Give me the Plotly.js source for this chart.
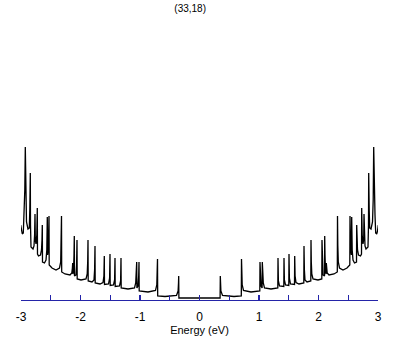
<!DOCTYPE html>
<html>
<head>
<meta charset="utf-8">
<script src="https://cdn.plot.ly/plotly-3.0.1.min.js"></script>
<style>html,body{margin:0;padding:0;background:#fff;}#plot{width:409px;height:345px;}</style>
</head>
<body>
<div id="plot"></div>
<script>
// Density of states of the (33,18) nanotube
const energyNeg = [-3.0050,-2.9916,-2.9782,-2.9613,-2.9496,-2.9445,-2.9361,-2.9277,-2.9193,-2.9076,-2.8824,-2.8605,-2.8521,-2.8437,-2.8403,-2.8319,-2.7983,-2.7815,-2.7714,-2.7647,-2.7597,-2.7479,-2.7345,-2.7261,-2.7227,-2.7059,-2.6723,-2.6555,-2.6471,-2.6420,-2.6387,-2.6050,-2.5798,-2.5664,-2.5580,-2.5529,-2.5395,-2.5294,-2.5261,-2.4790,-2.4118,-2.3529,-2.3328,-2.3244,-2.3193,-2.3160,-2.2605,-2.1765,-2.1462,-2.1361,-2.1311,-2.1277,-2.1176,-2.1092,-2.1042,-2.1008,-2.0756,-2.0655,-2.0588,-2.0555,-1.9916,-1.9076,-1.8874,-1.8790,-1.8739,-1.8706,-1.8067,-1.7731,-1.7630,-1.7563,-1.7529,-1.6723,-1.6218,-1.6067,-1.6000,-1.5966,-1.5294,-1.5109,-1.5042,-1.5008,-1.4454,-1.4269,-1.4202,-1.4168,-1.3445,-1.3261,-1.3193,-1.3160,-1.2017,-1.0924,-1.0723,-1.0622,-1.0555,-1.0521,-1.0336,-1.0218,-1.0168,-1.0134,-0.8655,-0.7395,-0.7176,-0.7109,-0.7059,-0.7025,-0.5798,-0.3866,-0.3597,-0.3529,-0.3496,-0.3462,0];
const dosNeg = [7.3,6.7,6.4,6.5,8.3,9.8,10.8,15.1,9.8,7.6,6.9,7.0,8.8,12.5,7.3,5.1,4.9,5.2,6.3,8.4,5.8,5.4,6.3,9.0,4.4,4.2,4.3,4.8,5.8,7.3,3.6,3.5,3.8,4.8,8.1,4.3,5.0,8.2,3.3,3.0,2.8,3.0,3.6,5.3,8.2,2.6,2.4,2.3,2.5,3.0,3.5,2.4,2.7,4.3,6.2,2.2,2.3,3.3,5.8,1.9,1.8,1.9,2.4,3.6,5.8,1.7,1.6,1.8,2.8,5.2,1.5,1.4,1.55,2.2,4.2,1.35,1.4,2.0,4.4,1.25,1.3,1.8,4.0,1.15,1.2,1.7,4.0,1.0,0.9,1.0,1.5,2.8,3.6,1.0,1.2,2.2,3.6,0.7,0.6,0.75,1.3,2.8,3.9,0.2,0.15,0.25,0.7,1.5,2.2,0,0];
const energyPos = [0,0.3462,0.3496,0.3529,0.3597,0.3866,0.5798,0.7025,0.7059,0.7109,0.7176,0.7395,0.8655,1.0134,1.0168,1.0218,1.0336,1.0521,1.0555,1.0622,1.0723,1.0924,1.2017,1.3160,1.3193,1.3261,1.3445,1.4168,1.4202,1.4269,1.4454,1.5008,1.5042,1.5109,1.5294,1.5966,1.6000,1.6067,1.6218,1.6723,1.7529,1.7563,1.7630,1.7731,1.8067,1.8706,1.8739,1.8790,1.8874,1.9076,1.9916,2.0555,2.0588,2.0655,2.0756,2.1008,2.1042,2.1092,2.1176,2.1277,2.1311,2.1361,2.1462,2.1765,2.2605,2.3160,2.3193,2.3244,2.3328,2.3529,2.4118,2.4790,2.5261,2.5294,2.5395,2.5529,2.5580,2.5664,2.5798,2.6050,2.6387,2.6420,2.6471,2.6555,2.6723,2.7059,2.7227,2.7261,2.7345,2.7479,2.7597,2.7647,2.7714,2.7815,2.7983,2.8319,2.8403,2.8437,2.8521,2.8605,2.8824,2.9076,2.9193,2.9277,2.9361,2.9445,2.9496,2.9613,2.9782,2.9916,3.0050];
const dosPos = [0,0,2.2,1.5,0.7,0.25,0.15,0.2,3.9,2.8,1.3,0.75,0.6,0.7,3.6,2.2,1.2,1.0,3.6,2.8,1.5,1.0,0.9,1.0,4.0,1.7,1.2,1.15,4.0,1.8,1.3,1.25,4.4,2.0,1.4,1.35,4.2,2.2,1.55,1.4,1.5,5.2,2.8,1.8,1.6,1.7,5.8,3.6,2.4,1.9,1.8,1.9,5.8,3.3,2.3,2.2,6.2,4.3,2.7,2.4,3.5,3.0,2.5,2.3,2.4,2.6,8.2,5.3,3.6,3.0,2.8,3.0,3.3,8.2,5.0,4.3,8.1,4.8,3.8,3.5,3.6,7.3,5.8,4.8,4.3,4.2,4.4,9.0,6.3,5.4,5.8,8.4,6.3,5.2,4.9,5.1,7.3,12.5,8.8,7.0,6.9,7.6,9.8,15.1,10.8,9.8,8.3,6.5,6.4,6.7,7.3];

const tickVals = [-3,-2.5,-2,-1.5,-1,-0.5,0,0.5,1,1.5,2,2.5,3];
const tickText = ['-3','','-2','','-1','','0','','1','','2','','3'];
const chartTitle = '(33,18)';
const xTitle = 'Energy (eV)';

const font = 'Liberation Sans, Arial, sans-serif';
const lineStyle = {color:'#000000', width:1.3, shape:'linear'};
const axisBlue = '#2424a8';

Plotly.newPlot('plot', [
  {x: energyNeg, y: dosNeg, type:'scatter', mode:'lines', line: lineStyle, hoverinfo:'skip'},
  {x: energyPos, y: dosPos, type:'scatter', mode:'lines', line: lineStyle, hoverinfo:'skip'}
], {
  width: 409, height: 345,
  margin: {l:21, r:31, t:20, b:45},
  paper_bgcolor:'#ffffff', plot_bgcolor:'#ffffff',
  showlegend:false,
  title: {text: chartTitle, x: 0.465, xanchor:'center', y: 0.975, yanchor:'middle', font:{family:font, size:10, color:'#000'}},
  xaxis: {
    range:[-3,3], showgrid:false, zeroline:false,
    showline:true, linecolor:axisBlue, linewidth:1.3,
    ticks:'inside', ticklen:5, tickwidth:1.3, tickcolor:axisBlue,
    tickmode:'array', tickvals: tickVals, ticktext: tickText,
    ticklabelstandoff: 5,
    tickfont:{family:font, size:12, color:'#000'},
    title:{text: xTitle, font:{family:font, size:11, color:'#000'}, standoff:3}
  },
  yaxis: {range:[-0.2, 27.8], visible:false, showgrid:false, zeroline:false}
}, {staticPlot:true, displayModeBar:false});
</script>
</body>
</html>
